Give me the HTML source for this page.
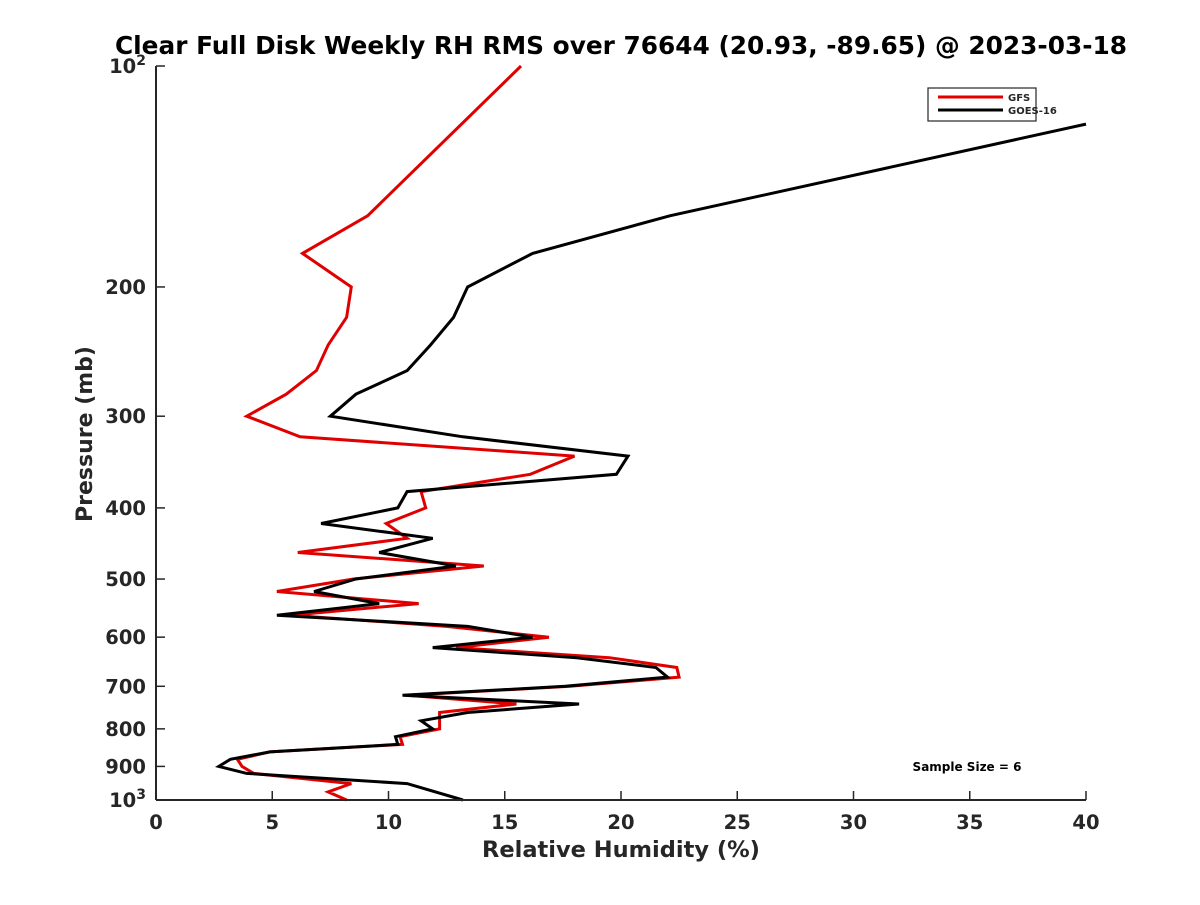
<!DOCTYPE html>
<html><head><meta charset="utf-8"><style>
body{margin:0;background:#fff;}
svg text{font-family:"DejaVu Sans","Liberation Sans",sans-serif;font-weight:bold;fill:#262626;}
</style></head><body>
<svg id="chart" width="1200" height="900" xmlns="http://www.w3.org/2000/svg">
<rect width="1200" height="900" fill="#fff"/>
<text x="621" y="54" font-size="24.8" text-anchor="middle" style="fill:#000">Clear Full Disk Weekly RH RMS over 76644 (20.93, -89.65) @ 2023-03-18</text>
<g id="plot"></g>
<g id="axes"></g>
<text x="621" y="857" font-size="22.5" text-anchor="middle">Relative Humidity (%)</text>
<text transform="translate(92,434) rotate(-90)" font-size="22" text-anchor="middle">Pressure (mb)</text>
<g>
<rect x="928" y="88" width="108" height="33" fill="#fff" stroke="#262626" stroke-width="1.2"/>
<line x1="938" y1="97" x2="1003" y2="97" stroke="#e00000" stroke-width="3"/>
<text x="1008" y="101" font-size="10">GFS</text>
<line x1="938" y1="110" x2="1003" y2="110" stroke="#000" stroke-width="3"/>
<text x="1008" y="114" font-size="10">GOES-16</text>
</g>
<text x="967" y="771" font-size="12" text-anchor="middle" style="fill:#000">Sample Size = 6</text>
</svg>
<script>
const gfsPressure=[100,160,180,200,220,240,260,280,300,320,340,360,380,400,420,440,460,480,500,520,540,560,580,600,620,640,660,680,700,720,740,760,780,800,820,840,860,880,900,920,950,975,1000];
const gfsRH=[15.7,9.1,6.3,8.4,8.2,7.4,6.9,5.6,3.9,6.2,18.0,16.1,11.4,11.6,9.9,10.8,6.1,14.1,8.5,5.2,11.3,5.8,12.5,16.9,12.9,19.5,22.4,22.5,17.8,10.8,15.5,12.2,12.2,12.2,10.5,10.6,4.9,3.5,3.7,4.2,8.4,7.4,8.2];
const goesPressure=[120,160,180,200,220,240,260,280,300,320,340,360,380,400,420,440,460,480,500,520,540,560,580,600,620,640,660,680,700,720,740,760,780,800,820,840,860,880,900,920,950,1000];
const goesRH=[40,22.1,16.2,13.4,12.8,11.8,10.8,8.6,7.5,13.2,20.3,19.8,10.8,10.4,7.1,11.9,9.6,12.9,8.6,6.8,9.6,5.2,13.4,16.2,11.9,18.1,21.5,22.0,17.6,10.6,18.2,13.4,11.4,11.9,10.3,10.4,4.9,3.2,2.7,3.9,10.8,13.2];
const xTicks=[0,5,10,15,20,25,30,35,40];
const yTicks=[100,200,300,400,500,600,700,800,900,1000];
const yTickLabels=["10²","200","300","400","500","600","700","800","900","10³"];
const X0=156,X1=1086,Y0=66,Y1=800;
const xs=v=>X0+(v-0)/(40-0)*(X1-X0);
const ys=p=>Y0+(Math.log10(p)-2)*(Y1-Y0);
const NS="http://www.w3.org/2000/svg";
const plot=document.getElementById('plot'),axes=document.getElementById('axes');
function mk(t,a,parent){const e=document.createElementNS(NS,t);for(const k in a)e.setAttribute(k,a[k]);parent.appendChild(e);return e;}
function line(pr,rh,color,name){
  const pts=pr.map((p,i)=>xs(rh[i]).toFixed(1)+','+ys(p).toFixed(1)).join(' ');
  const e=mk('polyline',{points:pts,fill:'none',stroke:color,'stroke-width':3,'stroke-linejoin':'miter'},plot);
  
  
}
line(gfsPressure,gfsRH,'#e00000','gfs-line');
line(goesPressure,goesRH,'#000','goes16-line');
mk('line',{x1:X0,y1:Y0,x2:X0,y2:Y1,stroke:'#262626','stroke-width':2},axes);
mk('line',{x1:X0,y1:Y1,x2:X1,y2:Y1,stroke:'#262626','stroke-width':2},axes);
xTicks.forEach(v=>{
  const x=xs(v);
  const t=mk('line',{x1:x,y1:Y1,x2:x,y2:Y1-9,stroke:'#262626','stroke-width':1.5},axes);
  
  
  const l=mk('text',{x:x,y:Y1+29,'font-size':19.5,'text-anchor':'middle'},axes);
  l.textContent=v;
  
  
});
yTicks.forEach((p,i)=>{
  const y=ys(p);
  const t=mk('line',{x1:X0,y1:y,x2:X0+9,y2:y,stroke:'#262626','stroke-width':1.5},axes);
  
  
  const lab=yTickLabels[i];
  const l=mk('text',{x:X0-10,y:y+7,'font-size':19.5,'text-anchor':'end'},axes);
  
  
  if(lab.length===3&&lab.startsWith('10')&&!/^\d+$/.test(lab)){
    const base=mk('tspan',{},l);base.textContent='10';
    const sup=mk('tspan',{dy:-8,'font-size':14},l);sup.textContent=lab.endsWith('²')?'2':'3';
  } else l.textContent=lab;
});
</script>
</body></html>
